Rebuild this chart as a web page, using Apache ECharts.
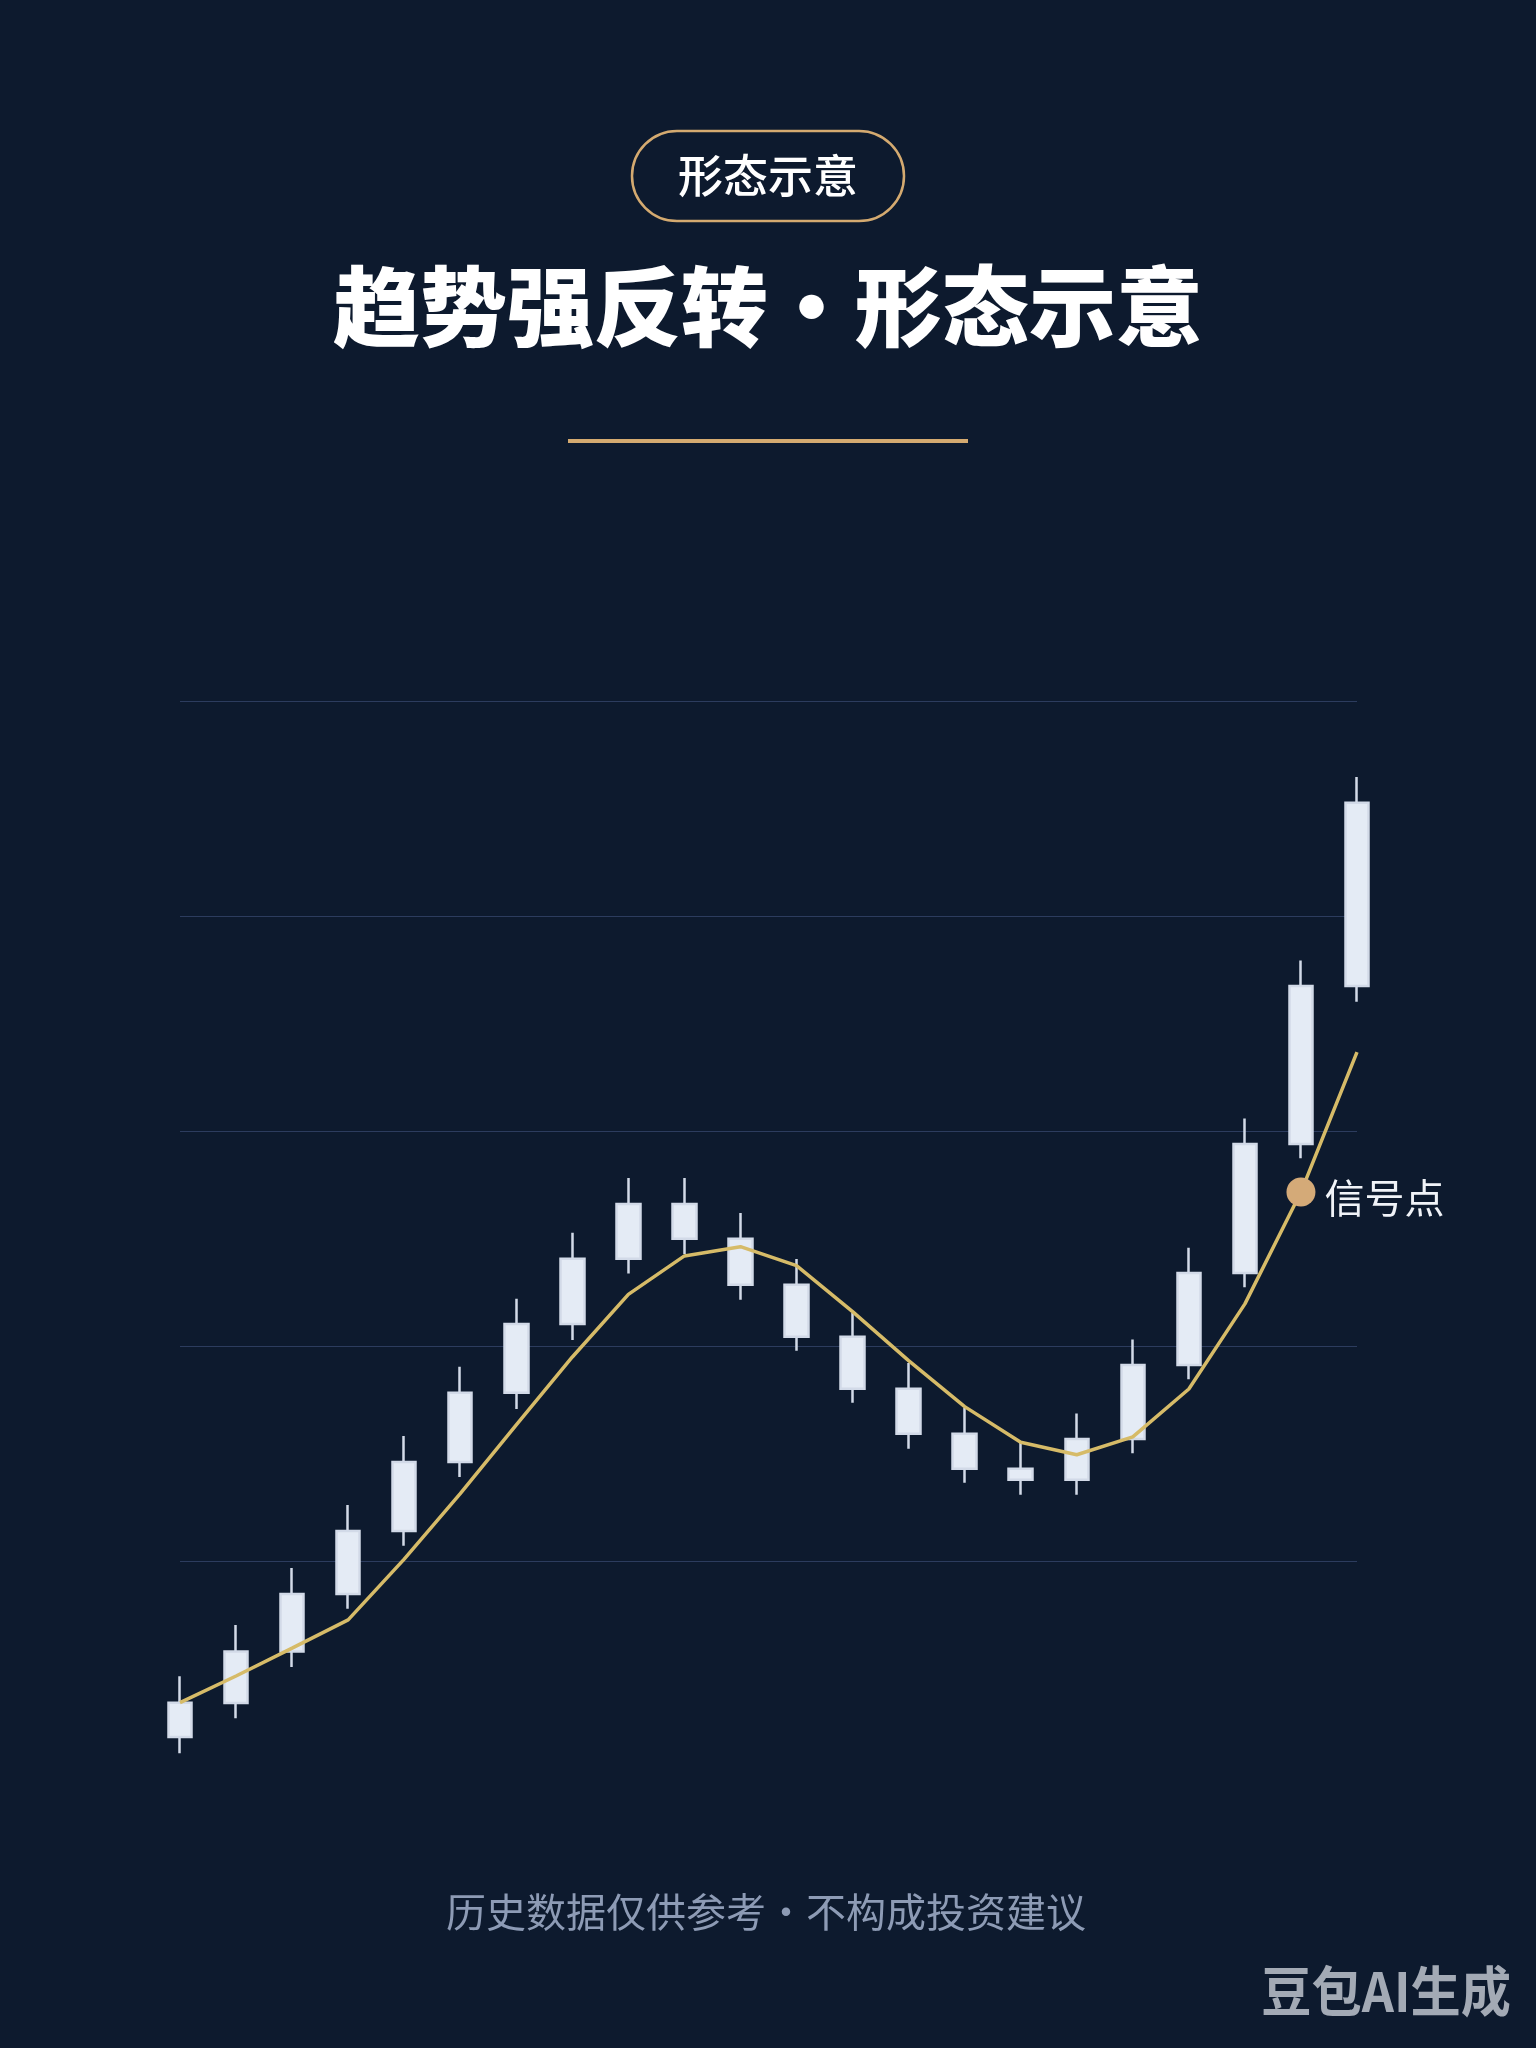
<!DOCTYPE html>
<html>
<head>
<meta charset="utf-8">
<script src="https://cdn.jsdelivr.net/npm/echarts@6/dist/echarts.min.js"></script>
<style>
  html, body { margin: 0; padding: 0; background: #0d1a2e; }
  #chart { width: 1536px; height: 2048px; }
</style>
</head>
<body>
<div id="chart"></div>
<script>
// ---- data ----
const categories = ['D1','D2','D3','D4','D5','D6','D7','D8','D9','D10','D11','D12','D13','D14','D15','D16','D17','D18','D19','D20','D21','D22'];
// [open, close, low, high]
const openValues  = [81.81, 83.40, 85.79, 88.47, 91.40, 94.60, 97.83, 101.02, 104.06, 106.60, 104.99, 102.85, 100.43, 98.01, 95.92, 94.29, 93.78, 95.67, 99.12, 103.40, 109.40, 116.74];
const closeValues = [83.41, 85.79, 88.47, 91.40, 94.60, 97.83, 101.02, 104.06, 106.60, 104.99, 102.85, 100.43, 98.01, 95.92, 94.29, 93.78, 95.67, 99.12, 103.40, 109.40, 116.74, 125.27];
const lowValues   = [81.06, 82.69, 85.07, 87.78, 90.71, 93.91, 97.07, 100.28, 103.37, 104.28, 102.15, 99.78, 97.36, 95.22, 93.64, 93.08, 93.08, 95.01, 98.45, 102.73, 108.73, 116.01];
const highValues  = [84.64, 87.02, 89.67, 92.60, 95.81, 99.03, 102.20, 105.27, 107.81, 107.81, 106.19, 104.05, 101.53, 99.21, 97.12, 95.49, 96.86, 100.30, 104.57, 110.58, 117.93, 126.47];
const maValues    = [83.41, 84.65, 85.95, 87.26, 90.09, 93.13, 96.33, 99.49, 102.40, 104.19, 104.62, 103.74, 101.60, 99.32, 97.18, 95.52, 94.94, 95.77, 98.00, 101.96, 107.16, 113.67];
const signalIndex = 20;
const signalLabel = '信号点';
const yMin = 80, yMax = 130, yInterval = 10;

const badgeText = '形态示意';
const titleText = '趋势强反转·形态示意';
const footerText = '历史数据仅供参考·不构成投资建议';
const watermarkText = '豆包AI生成';

// ---- build ----
const kData = categories.map((c, i) => [openValues[i], closeValues[i], lowValues[i], highValues[i]]);
const signalData = categories.map((c, i) => i === signalIndex ? maValues[i] : '-');

const FONT = '"Noto Sans CJK SC", "Noto Sans", sans-serif';
const chart = echarts.init(document.getElementById('chart'), null, { renderer: 'canvas' });

chart.setOption({
  backgroundColor: '#0d1a2e',
  animation: false,
  grid: { left: 180, right: 179, top: 701, bottom: 272, containLabel: false },
  xAxis: {
    type: 'category',
    data: categories,
    boundaryGap: false,
    axisLine: { show: false },
    axisTick: { show: false },
    axisLabel: { show: false },
    splitLine: { show: false }
  },
  yAxis: {
    type: 'value',
    min: yMin, max: yMax, interval: yInterval,
    axisLine: { show: false },
    axisTick: { show: false },
    axisLabel: { show: false },
    splitLine: { show: true, showMinLine: false, lineStyle: { color: '#2c3c5e', width: 1.2 } }
  },
  series: [
    {
      type: 'candlestick',
      data: kData,
      barWidth: 24,
      itemStyle: {
        color: '#e4ebf5', color0: '#e4ebf5',
        borderColor: '#d2dae8', borderColor0: '#d2dae8',
        borderWidth: 2.5
      },
      z: 2
    },
    {
      type: 'line',
      data: maValues,
      symbol: 'none',
      smooth: false,
      lineStyle: { color: '#d6bb68', width: 3.5 },
      z: 3
    },
    {
      type: 'scatter',
      data: signalData,
      symbol: 'circle',
      symbolSize: 29,
      itemStyle: { color: '#d4aa78', opacity: 1 },
      label: {
        show: true,
        formatter: signalLabel,
        position: 'right',
        distance: 9,
        offset: [0, 6],
        color: '#f0f3f8',
        fontSize: 40,
        fontFamily: FONT
      },
      z: 4
    }
  ],
  graphic: [
    {
      type: 'rect',
      shape: { x: 632, y: 131, width: 272, height: 90, r: 45 },
      style: { fill: 'transparent', stroke: '#d4aa70', lineWidth: 2.5 }
    },
    {
      type: 'text',
      x: 768, y: 176,
      style: { text: badgeText, fill: '#ffffff', font: '500 45px ' + FONT, textAlign: 'center', textVerticalAlign: 'middle' }
    },
    {
      type: 'text',
      x: 768, y: 307,
      style: { text: titleText, fill: '#ffffff', font: '900 87px ' + FONT, textAlign: 'center', textVerticalAlign: 'middle' }
    },
    {
      type: 'rect',
      shape: { x: 568, y: 439, width: 400, height: 4 },
      style: { fill: '#d4aa70' }
    },
    {
      type: 'text',
      x: 766, y: 1912,
      style: { text: footerText, fill: '#8d9bb5', font: '400 40px ' + FONT, textAlign: 'center', textVerticalAlign: 'middle' }
    },
    {
      type: 'text',
      x: 1511, y: 1991,
      scaleX: 0.93,
      style: { text: watermarkText, fill: '#a3aab5', font: '700 54px ' + FONT, textAlign: 'right', textVerticalAlign: 'middle' }
    }
  ]
});
</script>
</body>
</html>
